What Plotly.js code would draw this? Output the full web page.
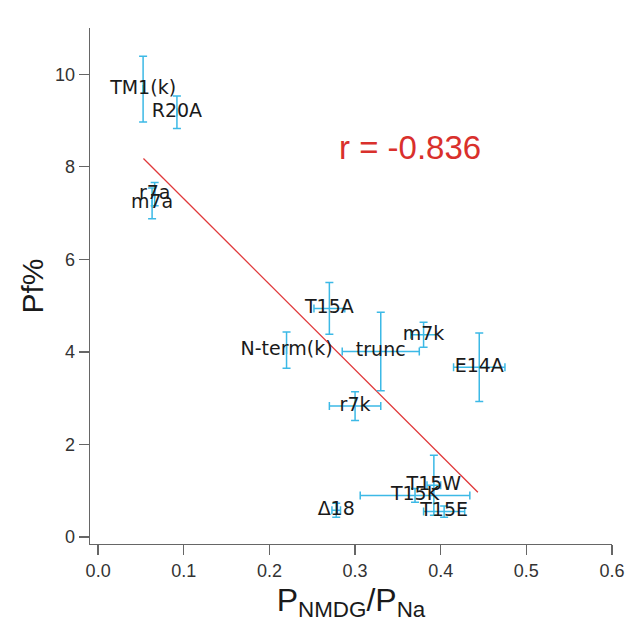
<!DOCTYPE html>
<html>
<head>
<meta charset="utf-8">
<script src="https://cdn.plot.ly/plotly-3.0.1.min.js"></script>
<style>html,body{margin:0;padding:0;background:#fff;}#chart{width:633px;height:633px;}</style>
</head>
<body>
<div id="chart"></div>
<script>
// Data
const labels = ["TM1(k)", "R20A", "r7a", "m7a", "T15A", "N-term(k)", "trunc", "m7k", "E14A", "r7k", "Δ18", "T15W", "T15K", "T15E"];
const pNmdgPna = [0.0525, 0.092, 0.066, 0.063, 0.270, 0.220, 0.330, 0.380, 0.445, 0.300, 0.278, 0.392, 0.370, 0.404];
const pNmdgErr = [0, 0, 0, 0, 0.018, 0, 0.045, 0.015, 0.030, 0.030, 0.005, 0.008, 0.064, 0.024];
const pfPct = [9.68, 9.18, 7.41, 7.21, 4.94, 4.04, 4.01, 4.37, 3.67, 2.83, 0.58, 1.12, 0.90, 0.55];
const pfErr = [0.71, 0.35, 0.25, 0.33, 0.56, 0.39, 0.85, 0.27, 0.74, 0.31, 0.15, 0.65, 0.15, 0.12];
const fitX = [0.0529, 0.4434];
const fitY = [8.18, 0.97];
const rText = "r = -0.836";
const xTicks = [0.0, 0.1, 0.2, 0.3, 0.4, 0.5, 0.6];
const yTicks = [0, 2, 4, 6, 8, 10];

const errColor = '#3cb9e6';
const traces = [
  {
    x: fitX, y: fitY, mode: 'lines', type: 'scatter',
    line: {color: '#e0393b', width: 1.3}, hoverinfo: 'skip'
  },
  {
    x: pNmdgPna, y: pfPct, text: labels, type: 'scatter', mode: 'text',
    textposition: 'middle center',
    textfont: {family: 'DejaVu Sans', size: 19, color: '#1a1a1a'},
    error_x: {type: 'data', array: pNmdgErr, visible: true, color: errColor, thickness: 1.5, width: 4},
    error_y: {type: 'data', array: pfErr, visible: true, color: errColor, thickness: 1.5, width: 4}
  }
];

const axisFont = {family: 'Liberation Sans, Arial, sans-serif', size: 18, color: '#333'};
const layout = {
  width: 633, height: 633,
  margin: {l: 90, r: 21, t: 28, b: 89},
  paper_bgcolor: '#fff', plot_bgcolor: '#fff',
  showlegend: false,
  xaxis: {
    range: [-0.0095, 0.6], tickvals: xTicks, tickformat: '.1f',
    showgrid: false, zeroline: false, showline: true, linecolor: '#666', linewidth: 1.3,
    ticks: 'outside', ticklen: 10, tickwidth: 1.3, tickcolor: '#666',
    tickfont: axisFont,
    title: {text: 'P<sub>NMDG</sub>/P<sub>Na</sub>', font: {family: 'Liberation Sans, Arial, sans-serif', size: 32, color: '#1a1a1a'}, standoff: 8}
  },
  yaxis: {
    range: [-0.15, 11], tickvals: yTicks,
    showgrid: false, zeroline: false, showline: true, linecolor: '#666', linewidth: 1.3,
    ticks: 'outside', ticklen: 10, tickwidth: 1.3, tickcolor: '#666',
    tickfont: axisFont,
    title: {text: 'Pf%', font: {family: 'Liberation Sans, Arial, sans-serif', size: 30, color: '#1a1a1a'}, standoff: 2}
  },
  annotations: [{
    text: rText, x: 0.364, y: 8.42, xref: 'x', yref: 'y', showarrow: false,
    font: {family: 'Liberation Sans, Arial, sans-serif', size: 33, color: '#d9302c'}
  }]
};

Plotly.newPlot('chart', traces, layout, {staticPlot: true, displayModeBar: false});
</script>
</body>
</html>
